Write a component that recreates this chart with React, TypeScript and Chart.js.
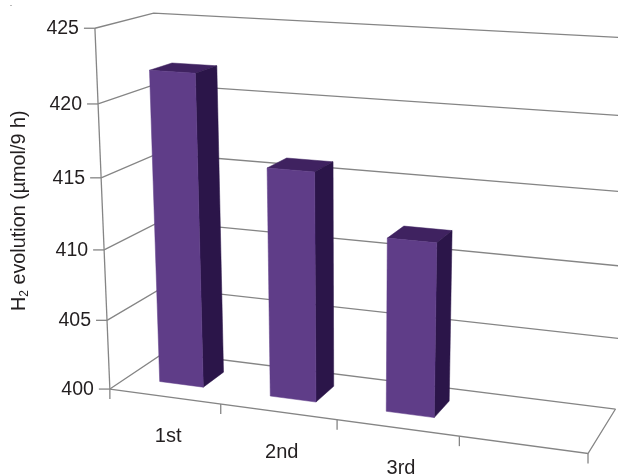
import React, { useEffect, useRef } from "react";
import { Chart, registerables } from "chart.js";

Chart.register(...registerables);

const categories = ["1st", "2nd", "3rd", ""];
const hydrogenEvolution = [422, 416, 412, null];
const axisMin = 400;
const axisMax = 425;
const axisStep = 5;

const FONT = '"Liberation Sans", Arial, sans-serif';
const INK = "#231f20";
const GRID = "#858585";
const FACE_FRONT = "#5f3d88";
const FACE_SIDE = "#2b1549";
const FACE_TOP = "#3f2260";

// Reference points of the box: [along categories, along values, depth, px, py]
const boxAnchors: number[][] = [
  [0, 0, 0, 110.5, 389.5],
  [0, 1, 0, 95.5, 29.5],
  [0, 1, 1, 153, 13],
  [0, 0, 1, 165, 353.5],
  [1, 0, 0, 588, 454],
  [1, 0, 1, 615, 408],
  [1, 1, 1, 633, 38.3],
  [0.5, 0, 0, 337, 420.5],
  [0, 0.4, 0, 103, 247],
];
const barDepthFront = 0.31;
const barDepthBack = 0.71;

// Least-squares fit of a 3D-to-2D projective camera matrix.
function solveCamera(anchors: number[][]) {
  const S = 600;
  const rows: number[][] = [];
  const rhs: number[] = [];
  for (const [u, v, w, px, py] of anchors) {
    const x = px / S;
    const y = py / S;
    rows.push([u, v, w, 1, 0, 0, 0, 0, -x * u, -x * v, -x * w]);
    rhs.push(x);
    rows.push([0, 0, 0, 0, u, v, w, 1, -y * u, -y * v, -y * w]);
    rhs.push(y);
  }
  const n = 11;
  const A = Array.from({ length: n }, () => new Array(n + 1).fill(0));
  rows.forEach((r, k) => {
    for (let i = 0; i < n; i++) {
      for (let j = 0; j < n; j++) A[i][j] += r[i] * r[j];
      A[i][n] += r[i] * rhs[k];
    }
  });
  for (let i = 0; i < n; i++) A[i][i] += 1e-9;
  for (let c = 0; c < n; c++) {
    let p = c;
    for (let r = c + 1; r < n; r++) if (Math.abs(A[r][c]) > Math.abs(A[p][c])) p = r;
    [A[c], A[p]] = [A[p], A[c]];
    for (let r = 0; r < n; r++) {
      if (r === c) continue;
      const f = A[r][c] / A[c][c];
      for (let k = c; k <= n; k++) A[r][k] -= f * A[c][k];
    }
  }
  const m = A.map((row, i) => row[n] / row[i]);
  return (u: number, v: number, w: number): [number, number] => {
    const d = m[8] * u + m[9] * v + m[10] * w + 1;
    return [
      (S * (m[0] * u + m[1] * v + m[2] * w + m[3])) / d,
      (S * (m[4] * u + m[5] * v + m[6] * w + m[7])) / d,
    ];
  };
}

const project = solveCamera(boxAnchors);

function polyline(ctx: CanvasRenderingContext2D, pts: [number, number][], fill?: string) {
  ctx.beginPath();
  pts.forEach(([x, y], i) => (i ? ctx.lineTo(x, y) : ctx.moveTo(x, y)));
  if (fill) {
    ctx.closePath();
    ctx.fillStyle = fill;
    ctx.fill();
    ctx.strokeStyle = fill;
    ctx.lineWidth = 0.5;
    ctx.stroke();
  } else {
    ctx.stroke();
  }
}

const perspectiveBox = {
  id: "perspectiveBox",
  // Walls, floor, ticks and labels, all placed from the chart's own scales
  beforeDatasetsDraw(chart: any) {
    const { ctx, chartArea: a, scales } = chart;
    const xs = scales.x;
    const ys = scales.y;
    const toV = (val: number) => (a.bottom - ys.getPixelForValue(val)) / (a.bottom - a.top);
    ctx.save();
    ctx.lineCap = "butt";
    ctx.strokeStyle = GRID;
    ctx.lineWidth = 1.3;
    ys.ticks.forEach((t: any) => {
      const v = toV(t.value);
      polyline(ctx, [project(0, v, 0), project(0, v, 1), project(1, v, 1)]);
      const [fx, fy] = project(0, v, 0);
      polyline(ctx, [[fx - 11, fy], [fx, fy]]);
      ctx.fillStyle = INK;
      ctx.font = `19.5px ${FONT}`;
      ctx.textAlign = "right";
      ctx.textBaseline = "middle";
      ctx.fillText(String(t.value), fx - 16, fy + 0.5);
    });
    polyline(ctx, [project(0, 1, 0), project(0, 0, 0)]);
    polyline(ctx, [project(0, 0, 0), project(1, 0, 0), project(1, 0, 1)]);
    const edges = xs.ticks.length;
    for (let i = 0; i <= edges; i++) {
      const [tx, ty] = project(i / edges, 0, 0);
      polyline(ctx, [[tx, ty], [tx, ty + 10]]);
    }
    xs.ticks.forEach((t: any, i: number) => {
      const u = (xs.getPixelForTick(i) - a.left) / (a.right - a.left);
      const [lx, ly] = project(u, 0, 0);
      ctx.fillStyle = INK;
      ctx.font = `20px ${FONT}`;
      ctx.textAlign = "center";
      ctx.textBaseline = "middle";
      ctx.fillText(categories[t.value], lx + 3.5, ly + 40.5);
    });

    // Rotated axis title with a subscript
    ctx.translate(20, 311);
    ctx.rotate(-Math.PI / 2);
    ctx.fillStyle = INK;
    ctx.textAlign = "left";
    ctx.textBaseline = "middle";
    ctx.font = `19.8px ${FONT}`;
    ctx.fillText("H", 0, 0);
    const hw = ctx.measureText("H").width;
    ctx.font = `12px ${FONT}`;
    ctx.fillText("2", hw, 5);
    const sw = ctx.measureText("2").width;
    ctx.font = `19.8px ${FONT}`;
    ctx.fillText(" evolution (µmol/9 h)", hw + sw, 0);
    ctx.restore();

    ctx.fillStyle = "#777777";
    ctx.fillRect(10.5, 5, 1, 1);
  },
  // Each bar is drawn as a box from the element geometry the bar controller computed
  beforeDatasetDraw(chart: any, args: any) {
    const { ctx, chartArea: a } = chart;
    const W = a.right - a.left;
    const H = a.bottom - a.top;
    ctx.save();
    args.meta.data.forEach((bar: any, i: number) => {
      if (hydrogenEvolution[i] === null) return;
      const p = bar.getProps(["x", "y", "base", "width"], true);
      const u0 = (p.x - p.width / 2 - a.left) / W;
      const u1 = (p.x + p.width / 2 - a.left) / W;
      const v1 = (a.bottom - p.y) / H;
      const v0 = (a.bottom - p.base) / H;
      const w0 = barDepthFront;
      const w1 = barDepthBack;
      polyline(ctx, [project(u0, v1, w0), project(u1, v1, w0), project(u1, v1, w1), project(u0, v1, w1)], FACE_TOP);
      polyline(ctx, [project(u1, v0, w0), project(u1, v1, w0), project(u1, v1, w1), project(u1, v0, w1)], FACE_SIDE);
      polyline(ctx, [project(u0, v0, w0), project(u1, v0, w0), project(u1, v1, w0), project(u0, v1, w0)], FACE_FRONT);
    });
    ctx.restore();
    return false;
  },
};

export default function App() {
  const canvasRef = useRef<HTMLCanvasElement>(null);
  useEffect(() => {
    const chart = new Chart(canvasRef.current!, {
      type: "bar",
      data: {
        labels: categories,
        datasets: [
          {
            label: "H2 evolution",
            data: hydrogenEvolution,
            base: axisMin,
            backgroundColor: FACE_FRONT,
            barPercentage: 1,
            categoryPercentage: 0.4,
          },
        ],
      },
      options: {
        responsive: false,
        animation: false,
        layout: { padding: 0 },
        plugins: { legend: { display: false }, tooltip: { enabled: false } },
        scales: {
          x: { display: false },
          y: { display: false, min: axisMin, max: axisMax, ticks: { stepSize: axisStep } },
        },
      },
      plugins: [perspectiveBox],
    } as any);
    return () => chart.destroy();
  }, []);
  return (
    <canvas
      ref={canvasRef}
      width={618}
      height={475}
      style={{ position: "fixed", left: 0, top: 0, width: 618, height: 475, background: "#ffffff" }}
    />
  );
}
